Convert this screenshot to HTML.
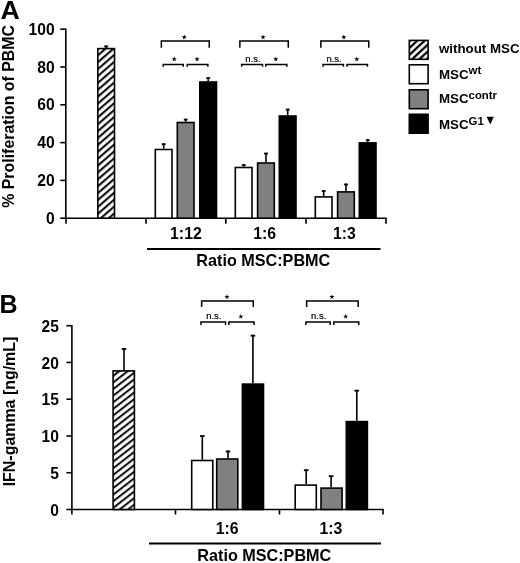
<!DOCTYPE html>
<html><head><meta charset="utf-8"><title>Figure</title>
<style>html,body{margin:0;padding:0;background:#fff}svg{display:block;will-change:transform}text{font-family:"Liberation Sans",sans-serif;fill:#000}.b{font-weight:bold}.r{font-weight:normal}</style>
</head><body>
<svg width="520" height="563" viewBox="0 0 520 563">
<defs><pattern id="h" patternUnits="userSpaceOnUse" width="5.2" height="5.2" patternTransform="rotate(-41)"><rect width="5.2" height="5.2" fill="#fff"/><rect y="1" width="5.2" height="2.0" fill="#000"/></pattern><pattern id="hb" patternUnits="userSpaceOnUse" width="5.2" height="5.2" patternTransform="rotate(-38)"><rect width="5.2" height="5.2" fill="#fff"/><rect y="1" width="5.2" height="1.9" fill="#000"/></pattern><pattern id="hl" patternUnits="userSpaceOnUse" width="5.0" height="5.0" patternTransform="rotate(-43) translate(0,2.3)"><rect width="5" height="5" fill="#fff"/><rect y="0.9" width="5" height="2.3" fill="#000"/></pattern></defs>
<rect width="520" height="563" fill="#fff"/>
<text transform="translate(0.4 18.7) scale(1.07 1)" font-size="25" class="b">A</text>
<path d="M65.8 28.4V218.2H386.8" stroke="#000" stroke-width="1.6" fill="none"/>
<path d="M60.3 218.20H65.8" stroke="#000" stroke-width="1.6"/>
<text transform="translate(54.60 223.70) scale(1 1.0)" font-size="15.6" text-anchor="end" class="b">0</text>
<path d="M60.3 180.40H65.8" stroke="#000" stroke-width="1.6"/>
<text transform="translate(54.60 185.90) scale(1 1.0)" font-size="15.6" text-anchor="end" class="b">20</text>
<path d="M60.3 142.60H65.8" stroke="#000" stroke-width="1.6"/>
<text transform="translate(54.60 148.10) scale(1 1.0)" font-size="15.6" text-anchor="end" class="b">40</text>
<path d="M60.3 104.80H65.8" stroke="#000" stroke-width="1.6"/>
<text transform="translate(54.60 110.30) scale(1 1.0)" font-size="15.6" text-anchor="end" class="b">60</text>
<path d="M60.3 67.00H65.8" stroke="#000" stroke-width="1.6"/>
<text transform="translate(54.60 72.50) scale(1 1.0)" font-size="15.6" text-anchor="end" class="b">80</text>
<path d="M60.3 29.20H65.8" stroke="#000" stroke-width="1.6"/>
<text transform="translate(54.60 34.70) scale(1 1.0)" font-size="15.6" text-anchor="end" class="b">100</text>
<path d="M66 218.2V223.7" stroke="#000" stroke-width="1.6"/>
<path d="M146 218.2V223.7" stroke="#000" stroke-width="1.6"/>
<path d="M225.8 218.2V223.7" stroke="#000" stroke-width="1.6"/>
<path d="M306 218.2V223.7" stroke="#000" stroke-width="1.6"/>
<path d="M386 218.2V223.7" stroke="#000" stroke-width="1.6"/>
<text transform="translate(13.8,116.4) rotate(-90)" font-size="15.9" text-anchor="middle" class="b">% Proliferation of PBMC</text>
<rect x="97.80" y="48.60" width="16.70" height="169.60" fill="url(#h)" stroke="#000" stroke-width="1.6"/>
<path d="M106.20 48.00V45.50" stroke="#000" stroke-width="1.6" fill="none"/><path d="M104.20 46.40H108.20" stroke="#000" stroke-width="1.8" fill="none"/>
<rect x="155.30" y="149.50" width="16.70" height="68.70" fill="#fff" stroke="#000" stroke-width="1.6"/>
<path d="M163.70 148.70V143.30" stroke="#000" stroke-width="1.6" fill="none"/><path d="M161.80 144.20H165.60" stroke="#000" stroke-width="1.8" fill="none"/>
<rect x="177.30" y="122.50" width="16.70" height="95.70" fill="#808080" stroke="#000" stroke-width="1.6"/>
<path d="M185.70 121.70V118.70" stroke="#000" stroke-width="1.6" fill="none"/><path d="M183.80 119.60H187.60" stroke="#000" stroke-width="1.8" fill="none"/>
<rect x="199.80" y="82.00" width="16.70" height="136.20" fill="#000" stroke="#000" stroke-width="1.6"/>
<path d="M208.20 81.20V77.20" stroke="#000" stroke-width="1.6" fill="none"/><path d="M206.30 78.10H210.10" stroke="#000" stroke-width="1.8" fill="none"/>
<rect x="235.30" y="167.50" width="16.70" height="50.70" fill="#fff" stroke="#000" stroke-width="1.6"/>
<path d="M243.70 166.70V164.20" stroke="#000" stroke-width="1.6" fill="none"/><path d="M241.80 165.10H245.60" stroke="#000" stroke-width="1.8" fill="none"/>
<rect x="257.60" y="163.00" width="16.70" height="55.20" fill="#808080" stroke="#000" stroke-width="1.6"/>
<path d="M266.00 162.20V152.70" stroke="#000" stroke-width="1.6" fill="none"/><path d="M264.10 153.60H267.90" stroke="#000" stroke-width="1.8" fill="none"/>
<rect x="279.30" y="116.00" width="16.70" height="102.20" fill="#000" stroke="#000" stroke-width="1.6"/>
<path d="M287.70 115.20V108.70" stroke="#000" stroke-width="1.6" fill="none"/><path d="M285.80 109.60H289.60" stroke="#000" stroke-width="1.8" fill="none"/>
<rect x="315.30" y="196.90" width="16.70" height="21.30" fill="#fff" stroke="#000" stroke-width="1.6"/>
<path d="M323.70 196.10V190.20" stroke="#000" stroke-width="1.6" fill="none"/><path d="M321.80 191.10H325.60" stroke="#000" stroke-width="1.8" fill="none"/>
<rect x="337.60" y="191.90" width="16.70" height="26.30" fill="#808080" stroke="#000" stroke-width="1.6"/>
<path d="M346.00 191.10V183.60" stroke="#000" stroke-width="1.6" fill="none"/><path d="M344.10 184.50H347.90" stroke="#000" stroke-width="1.8" fill="none"/>
<rect x="359.30" y="142.90" width="16.70" height="75.30" fill="#000" stroke="#000" stroke-width="1.6"/>
<path d="M367.70 142.10V139.20" stroke="#000" stroke-width="1.6" fill="none"/><path d="M365.80 140.10H369.60" stroke="#000" stroke-width="1.8" fill="none"/>
<path d="M161.35 47.70V41.10H209.25V47.70" stroke="#000" stroke-width="1.5" fill="none"/>
<polygon points="184.30,34.50 184.92,36.35 186.87,36.37 185.30,37.52 185.89,39.38 184.30,38.25 182.71,39.38 183.30,37.52 181.73,36.37 183.68,36.35" fill="#000"/>
<path d="M163.25 66.85V64.45H183.25V66.85" stroke="#000" stroke-width="1.5" fill="none"/>
<path d="M187.25 66.85V64.45H207.85V66.85" stroke="#000" stroke-width="1.5" fill="none"/>
<polygon points="174.25,56.50 174.87,58.35 176.82,58.37 175.25,59.52 175.84,61.38 174.25,60.25 172.66,61.38 173.25,59.52 171.68,58.37 173.63,58.35" fill="#000"/>
<polygon points="197.05,56.50 197.67,58.35 199.62,58.37 198.05,59.52 198.64,61.38 197.05,60.25 195.46,61.38 196.05,59.52 194.48,58.37 196.43,58.35" fill="#000"/>
<path d="M239.85 47.70V41.10H288.25V47.70" stroke="#000" stroke-width="1.5" fill="none"/>
<polygon points="263.05,34.50 263.67,36.35 265.62,36.37 264.05,37.52 264.64,39.38 263.05,38.25 261.46,39.38 262.05,37.52 260.48,36.37 262.43,36.35" fill="#000"/>
<path d="M241.65 66.85V64.45H262.55V66.85" stroke="#000" stroke-width="1.5" fill="none"/>
<path d="M265.75 66.85V64.45H286.85V66.85" stroke="#000" stroke-width="1.5" fill="none"/>
<text x="252.90" y="61.65" font-size="9.5" text-anchor="middle" class="r" stroke="#000" stroke-width="0.2">n.s.</text>
<polygon points="275.80,56.50 276.42,58.35 278.37,58.37 276.80,59.52 277.39,61.38 275.80,60.25 274.21,61.38 274.80,59.52 273.23,58.37 275.18,58.35" fill="#000"/>
<path d="M320.85 47.70V41.10H368.75V47.70" stroke="#000" stroke-width="1.5" fill="none"/>
<polygon points="343.80,34.50 344.42,36.35 346.37,36.37 344.80,37.52 345.39,39.38 343.80,38.25 342.21,39.38 342.80,37.52 341.23,36.37 343.18,36.35" fill="#000"/>
<path d="M323.05 66.85V64.45H343.45V66.85" stroke="#000" stroke-width="1.5" fill="none"/>
<path d="M347.05 66.85V64.45H367.45V66.85" stroke="#000" stroke-width="1.5" fill="none"/>
<text x="334.05" y="61.65" font-size="9.5" text-anchor="middle" class="r" stroke="#000" stroke-width="0.2">n.s.</text>
<polygon points="356.75,56.50 357.37,58.35 359.32,58.37 357.75,59.52 358.34,61.38 356.75,60.25 355.16,61.38 355.75,59.52 354.18,58.37 356.13,58.35" fill="#000"/>
<text transform="translate(185.90 238.70) scale(1 1.0)" font-size="15.8" text-anchor="middle" class="b">1:12</text>
<text transform="translate(264.70 238.70) scale(1 1.0)" font-size="15.8" text-anchor="middle" class="b">1:6</text>
<text transform="translate(344.50 238.70) scale(1 1.0)" font-size="15.8" text-anchor="middle" class="b">1:3</text>
<path d="M147 249H380.5" stroke="#000" stroke-width="2"/>
<text x="263.30" y="265.80" font-size="16.2" text-anchor="middle" class="b" >Ratio MSC:PBMC</text>
<rect x="409.30" y="40.40" width="18.80" height="18.90" fill="url(#hl)" stroke="#000" stroke-width="1.6"/>
<rect x="409.30" y="64.80" width="18.80" height="18.90" fill="#fff" stroke="#000" stroke-width="1.6"/>
<rect x="409.30" y="89.80" width="18.80" height="18.90" fill="#808080" stroke="#000" stroke-width="1.6"/>
<rect x="409.30" y="114.30" width="18.80" height="18.90" fill="#000" stroke="#000" stroke-width="1.6"/>
<text x="439.00" y="52.70" font-size="13.3" text-anchor="start" class="b" >without MSC</text>
<text x="439" y="78.7" font-size="13.3" class="b">MSC<tspan dy="-4.4" font-size="11.4">wt</tspan></text>
<text x="439" y="103.2" font-size="13.3" class="b">MSC<tspan dy="-4.4" font-size="11.4">contr</tspan></text>
<text x="439" y="129.0" font-size="13.3" class="b">MSC<tspan dy="-4.4" font-size="11.4">G1</tspan></text>
<path d="M486.6 116.8H493.8L490.2 124.6Z" fill="#000"/>
<text x="-0.40" y="312.80" font-size="25" text-anchor="start" class="b" >B</text>
<path d="M71.9 324.9V509.5H383.8" stroke="#000" stroke-width="1.6" fill="none"/>
<path d="M66.4 509.50H71.9" stroke="#000" stroke-width="1.6"/>
<text transform="translate(58.90 515.60) scale(1 1.0)" font-size="15.6" text-anchor="end" class="b">0</text>
<path d="M66.4 472.74H71.9" stroke="#000" stroke-width="1.6"/>
<text transform="translate(58.90 478.84) scale(1 1.0)" font-size="15.6" text-anchor="end" class="b">5</text>
<path d="M66.4 435.98H71.9" stroke="#000" stroke-width="1.6"/>
<text transform="translate(58.90 442.08) scale(1 1.0)" font-size="15.6" text-anchor="end" class="b">10</text>
<path d="M66.4 399.22H71.9" stroke="#000" stroke-width="1.6"/>
<text transform="translate(58.90 405.32) scale(1 1.0)" font-size="15.6" text-anchor="end" class="b">15</text>
<path d="M66.4 362.46H71.9" stroke="#000" stroke-width="1.6"/>
<text transform="translate(58.90 368.56) scale(1 1.0)" font-size="15.6" text-anchor="end" class="b">20</text>
<path d="M66.4 325.70H71.9" stroke="#000" stroke-width="1.6"/>
<text transform="translate(58.90 331.80) scale(1 1.0)" font-size="15.6" text-anchor="end" class="b">25</text>
<path d="M71.9 509.5V514.5" stroke="#000" stroke-width="1.6"/>
<path d="M175.5 509.5V514.5" stroke="#000" stroke-width="1.6"/>
<path d="M279.5 509.5V514.5" stroke="#000" stroke-width="1.6"/>
<path d="M383 509.5V514.5" stroke="#000" stroke-width="1.6"/>
<text transform="translate(15.4,411.5) rotate(-90)" font-size="15.95" text-anchor="middle" class="b">IFN-gamma [ng/mL]</text>
<rect x="113.10" y="370.90" width="21.30" height="138.60" fill="url(#hb)" stroke="#000" stroke-width="1.6"/>
<path d="M124.00 370.50V348.10" stroke="#000" stroke-width="1.6" fill="none"/><path d="M121.70 349.00H126.30" stroke="#000" stroke-width="1.8" fill="none"/>
<rect x="191.70" y="460.50" width="21.10" height="49.00" fill="#fff" stroke="#000" stroke-width="1.6"/>
<path d="M202.30 459.70V435.20" stroke="#000" stroke-width="1.6" fill="none"/><path d="M200.00 436.10H204.60" stroke="#000" stroke-width="1.8" fill="none"/>
<rect x="216.70" y="459.00" width="21.10" height="50.50" fill="#808080" stroke="#000" stroke-width="1.6"/>
<path d="M228.00 458.20V450.60" stroke="#000" stroke-width="1.6" fill="none"/><path d="M225.70 451.50H230.30" stroke="#000" stroke-width="1.8" fill="none"/>
<rect x="242.40" y="384.10" width="21.10" height="125.40" fill="#000" stroke="#000" stroke-width="1.6"/>
<path d="M252.90 383.30V334.80" stroke="#000" stroke-width="1.6" fill="none"/><path d="M250.60 335.70H255.20" stroke="#000" stroke-width="1.8" fill="none"/>
<rect x="295.20" y="485.10" width="21.10" height="24.40" fill="#fff" stroke="#000" stroke-width="1.6"/>
<path d="M306.20 484.30V469.30" stroke="#000" stroke-width="1.6" fill="none"/><path d="M303.90 470.20H308.50" stroke="#000" stroke-width="1.8" fill="none"/>
<rect x="321.00" y="488.10" width="21.10" height="21.40" fill="#808080" stroke="#000" stroke-width="1.6"/>
<path d="M331.10 487.30V475.30" stroke="#000" stroke-width="1.6" fill="none"/><path d="M328.80 476.20H333.40" stroke="#000" stroke-width="1.8" fill="none"/>
<rect x="346.30" y="421.60" width="21.10" height="87.90" fill="#000" stroke="#000" stroke-width="1.6"/>
<path d="M356.80 420.80V389.80" stroke="#000" stroke-width="1.6" fill="none"/><path d="M354.50 390.70H359.10" stroke="#000" stroke-width="1.8" fill="none"/>
<path d="M201.65 306.90V301.10H253.25V306.90" stroke="#000" stroke-width="1.5" fill="none"/>
<polygon points="226.95,294.20 227.57,296.05 229.52,296.07 227.95,297.22 228.54,299.08 226.95,297.95 225.36,299.08 225.95,297.22 224.38,296.07 226.33,296.05" fill="#000"/>
<path d="M200.95 324.90V321.90H225.55V324.90" stroke="#000" stroke-width="1.5" fill="none"/>
<path d="M228.85 324.90V321.90H254.05V324.90" stroke="#000" stroke-width="1.5" fill="none"/>
<text x="213.85" y="319.15" font-size="9.5" text-anchor="middle" class="r" stroke="#000" stroke-width="0.2">n.s.</text>
<polygon points="240.85,313.80 241.47,315.65 243.42,315.67 241.85,316.82 242.44,318.68 240.85,317.55 239.26,318.68 239.85,316.82 238.28,315.67 240.23,315.65" fill="#000"/>
<path d="M306.65 306.90V301.10H358.15V306.90" stroke="#000" stroke-width="1.5" fill="none"/>
<polygon points="331.90,294.20 332.52,296.05 334.47,296.07 332.90,297.22 333.49,299.08 331.90,297.95 330.31,299.08 330.90,297.22 329.33,296.07 331.28,296.05" fill="#000"/>
<path d="M305.95 324.90V321.90H330.15V324.90" stroke="#000" stroke-width="1.5" fill="none"/>
<path d="M333.85 324.90V321.90H358.75V324.90" stroke="#000" stroke-width="1.5" fill="none"/>
<text x="318.65" y="319.15" font-size="9.5" text-anchor="middle" class="r" stroke="#000" stroke-width="0.2">n.s.</text>
<polygon points="345.70,313.80 346.32,315.65 348.27,315.67 346.70,316.82 347.29,318.68 345.70,317.55 344.11,318.68 344.70,316.82 343.13,315.67 345.08,315.65" fill="#000"/>
<text transform="translate(227.20 534.30) scale(1 1.0)" font-size="15.8" text-anchor="middle" class="b">1:6</text>
<text transform="translate(331.00 534.30) scale(1 1.0)" font-size="15.8" text-anchor="middle" class="b">1:3</text>
<path d="M149 543.5H381" stroke="#000" stroke-width="2"/>
<text x="264.30" y="561.00" font-size="16.2" text-anchor="middle" class="b" >Ratio MSC:PBMC</text>
</svg></body></html>
